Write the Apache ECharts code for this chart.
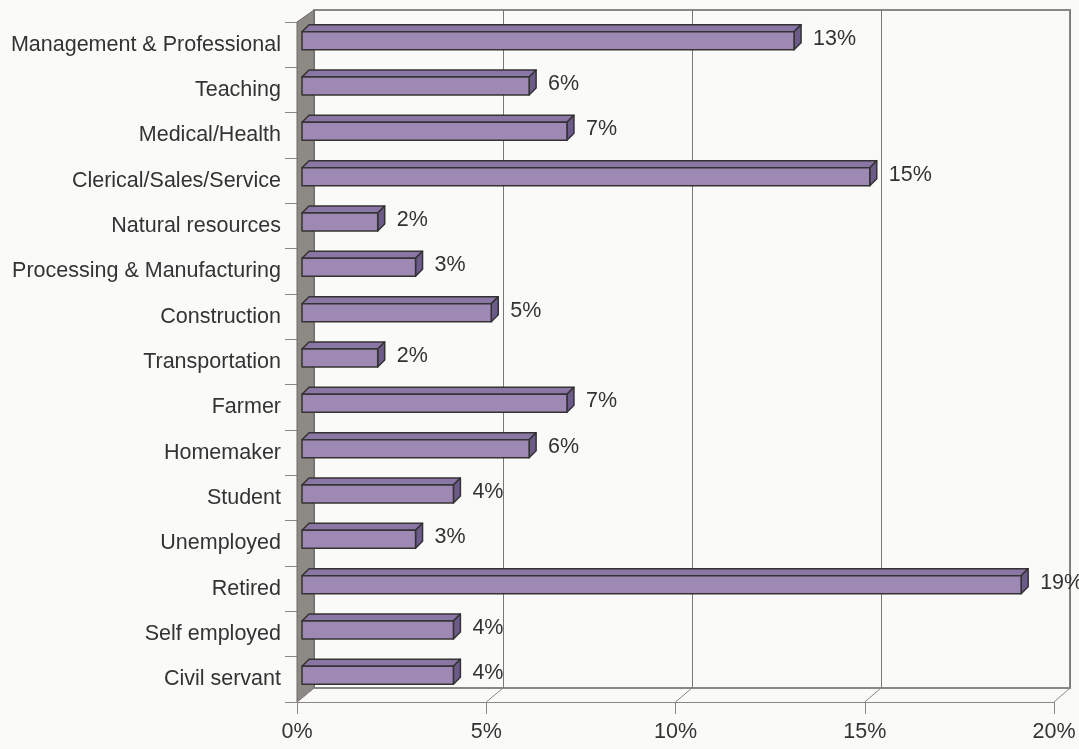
<!DOCTYPE html>
<html>
<head>
<meta charset="utf-8">
<script src="https://cdn.jsdelivr.net/npm/echarts@6/dist/echarts.min.js"></script>
<style>
html,body{margin:0;padding:0;background:#fafaf8;}
#main{width:1079px;height:749px;}
</style>
</head>
<body>
<div id="main"></div>
<script>
const categories = [
  "Management & Professional","Teaching","Medical/Health","Clerical/Sales/Service",
  "Natural resources","Processing & Manufacturing","Construction","Transportation",
  "Farmer","Homemaker","Student","Unemployed","Retired","Self employed","Civil servant"
];
const values = [13, 6, 7, 15, 2, 3, 5, 2, 7, 6, 4, 3, 19, 4, 4];
const tickValues = [0, 5, 10, 15, 20];

const FONT = "'Liberation Sans', Arial, sans-serif";
const FS = 21.5;
const W = 1079, H = 749;
const FRONT = {left: 297, right: 25, top: 22, bottom: 47};
const BACK = {left: 314, right: 9, top: 10, bottom: 61};
const BAR_OFF = [5, -4];      // bar front face offset from front plane
const BAR_DEPTH = [7, -7];    // bar depth
const BAR_H = 18;

const chart = echarts.init(document.getElementById('main'), null, {renderer: 'canvas'});

const barData = values.map((v, i) => [v, i]);

const option = {
  backgroundColor: '#fafaf8',
  animation: false,
  textStyle: {fontFamily: FONT},
  grid: [
    Object.assign({containLabel: false}, FRONT),
    Object.assign({containLabel: false, show: true, borderColor: '#8a8886', borderWidth: 2, backgroundColor: 'transparent'}, BACK)
  ],
  xAxis: [
    {
      type: 'value', gridIndex: 0, min: 0, max: 20, interval: 5,
      axisLabel: {formatter: '{value}%', fontSize: FS, color: '#333', margin: 19, fontFamily: FONT},
      axisLine: {show: true, lineStyle: {color: '#8a8886', width: 1}},
      axisTick: {show: true, length: 12, lineStyle: {color: '#8a8886'}},
      splitLine: {show: false}
    },
    {
      type: 'value', gridIndex: 1, min: 0, max: 20, interval: 5,
      axisLabel: {show: false}, axisLine: {show: false}, axisTick: {show: false},
      splitLine: {show: true, lineStyle: {color: '#777', width: 1}}
    }
  ],
  yAxis: [
    {
      type: 'category', gridIndex: 0, data: categories, inverse: true,
      axisLabel: {fontSize: FS, color: '#333', margin: 16, fontFamily: FONT},
      axisLine: {show: true, lineStyle: {color: '#555', width: 1}},
      axisTick: {show: true, length: 12, lineStyle: {color: '#8a8886'}},
      splitLine: {show: false}
    },
    {
      type: 'value', gridIndex: 1, min: 0, max: 1, show: false,
      splitLine: {show: false}
    }
  ],
  series: [
    {
      type: 'custom',
      xAxisIndex: 0, yAxisIndex: 0,
      z: 5,
      data: barData,
      renderItem: function (params, api) {
        const v = api.value(0), c = api.value(1);
        const s = api.coord([0, c]);
        const e = api.coord([v, c]);
        const x0 = s[0] + BAR_OFF[0], x1 = e[0] + BAR_OFF[0];
        const cy = s[1] + BAR_OFF[1];
        const top = cy - BAR_H / 2, bot = cy + BAR_H / 2;
        const dx = BAR_DEPTH[0], dy = BAR_DEPTH[1];
        const stroke = {stroke: '#333', lineWidth: 1.5, lineJoin: 'round'};
        return {
          type: 'group',
          children: [
            {type: 'polygon', shape: {points: [[x0, top], [x0 + dx, top + dy], [x1 + dx, top + dy], [x1, top]]},
             style: Object.assign({fill: '#8a76a4'}, stroke)},
            {type: 'polygon', shape: {points: [[x1, top], [x1 + dx, top + dy], [x1 + dx, bot + dy], [x1, bot]]},
             style: Object.assign({fill: '#6c5a88'}, stroke)},
            {type: 'rect', shape: {x: x0, y: top, width: x1 - x0, height: BAR_H},
             style: Object.assign({fill: '#9e89b5'}, stroke)},
            {type: 'text', x: x1 + dx + 12, y: cy - 2,
             style: {text: v + '%', fontSize: FS, fill: '#333', fontFamily: FONT, align: 'left', verticalAlign: 'middle'}}
          ]
        };
      }
    }
  ]
};
chart.setOption(option);

// walls and floor
const fy = H - FRONT.bottom, by = H - BACK.bottom;
const fx0 = FRONT.left, bx0 = BACK.left;
const graphics = [];
graphics.push({
  type: 'polygon', z: 1,
  shape: {points: [[fx0, FRONT.top], [bx0, BACK.top], [bx0, by], [fx0, fy]]},
  style: {fill: '#8d8985', stroke: '#6e6b68', lineWidth: 1}
});
tickValues.forEach(v => {
  const xf = chart.convertToPixel({xAxisIndex: 0}, v);
  const xb = chart.convertToPixel({xAxisIndex: 1}, v);
  graphics.push({
    type: 'line', z: 1,
    shape: {x1: xf, y1: fy, x2: xb, y2: by},
    style: {stroke: '#8a8886', lineWidth: 1}
  });
});
chart.setOption({graphic: graphics});
</script>
</body>
</html>
